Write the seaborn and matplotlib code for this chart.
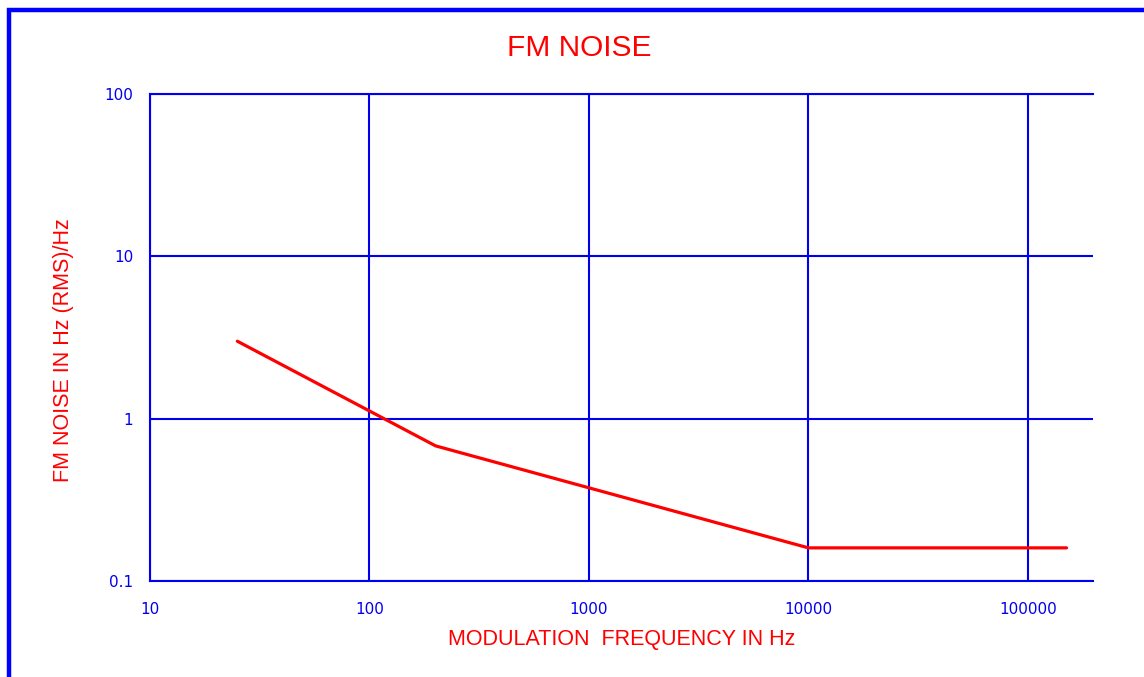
import matplotlib
matplotlib.use('Agg')
import matplotlib.pyplot as plt
import matplotlib.ticker as mticker
from matplotlib.patches import Rectangle
import pandas as pd
import seaborn as sns

# data
freq_hz = [25, 200, 10000, 150000]
fm_noise = [3.0, 0.68, 0.16, 0.16]
x_ticks = [10, 100, 1000, 10000, 100000]
y_ticks = [0.1, 1, 10, 100]

df = pd.DataFrame({'freq': freq_hz, 'noise': fm_noise})

sns.set_style('white')
plt.rcParams['font.family'] = ['Liberation Sans', 'DejaVu Sans']

fig = plt.figure(figsize=(11.44, 6.77), dpi=100)
ax = fig.add_axes([150 / 1144, 96 / 677, 943 / 1144, 487 / 677])

sns.lineplot(data=df, x='freq', y='noise', color='#ff0000', linewidth=2.3, ax=ax)

ax.set_xscale('log')
ax.set_yscale('log')
ax.set_xlim(10, 1.98e5)
ax.set_ylim(0.1, 100)
ax.xaxis.set_major_locator(mticker.FixedLocator(x_ticks))
ax.yaxis.set_major_locator(mticker.FixedLocator(y_ticks))
ax.xaxis.set_minor_locator(mticker.NullLocator())
ax.yaxis.set_minor_locator(mticker.NullLocator())
ax.set_xticklabels([str(t) for t in x_ticks])
ax.set_yticklabels(['0.1', '1', '10', '100'])

blue = '#0000ee'
ax.grid(True, which='major', color=blue, linewidth=1.5)
ax.set_axisbelow(True)
for side in ['left', 'bottom', 'top']:
    ax.spines[side].set_color(blue)
    ax.spines[side].set_linewidth(1.5)
ax.spines['right'].set_visible(False)
ax.tick_params(axis='x', length=0, colors=blue, labelsize=11, pad=15)
ax.tick_params(axis='y', length=0, colors=blue, labelsize=11, pad=12)
for lbl in ax.get_xticklabels() + ax.get_yticklabels():
    lbl.set_family('DejaVu Sans')

ax.set_xlabel('MODULATION  FREQUENCY IN Hz', color='#ff0000', fontsize=15.5, labelpad=9)
ax.set_ylabel('FM NOISE IN Hz (RMS)/Hz', color='#ff0000', fontsize=15.5)
ax.yaxis.set_label_coords(-0.081, 0.474)
fig.text(579 / 1144, 1 - 48 / 677, 'FM NOISE', color='#ff0000', fontsize=21.5,
         ha='center', va='center')

# blue frame around the figure (runs off right and bottom)
fig.patches.append(Rectangle((9 / 1144, -0.05), 1.2, 1 - 10 / 677 + 0.05,
                             transform=fig.transFigure, fill=False,
                             edgecolor='#0000ff', linewidth=3.2, clip_on=False))

fig.savefig('out.png', dpi=100, facecolor='white')
